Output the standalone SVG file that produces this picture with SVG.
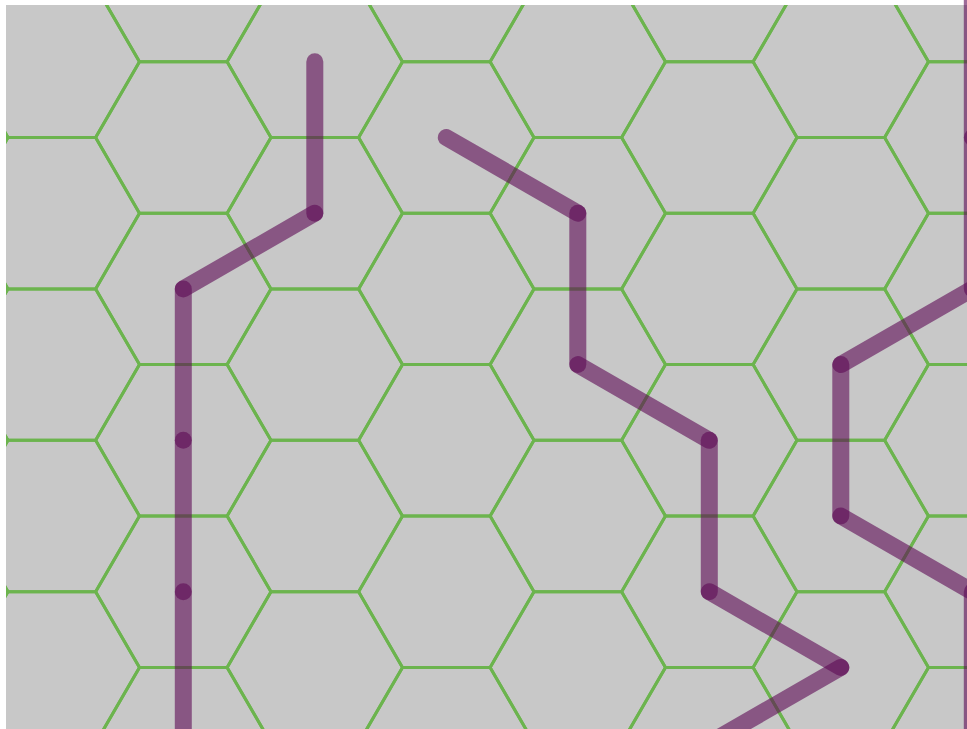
<svg xmlns="http://www.w3.org/2000/svg" xmlns:xlink="http://www.w3.org/1999/xlink" width="967" height="729" viewBox="0 0 967 729">
<style>
.hex{fill:none;stroke:#6cb44e;stroke-width:3;stroke-linejoin:miter}
.seg{stroke:#5e0a55;stroke-opacity:0.6;stroke-width:17;stroke-linecap:round}
</style>
<defs>
<polygon id="h" class="hex" points="-87.67,0 -43.83,-75.7 43.83,-75.7 87.67,0 43.83,75.7 -43.83,75.7"/>
<clipPath id="c"><rect x="6" y="5" width="961" height="724"/></clipPath>
</defs>
<rect width="967" height="729" fill="#ffffff"/>
<rect x="6" y="5" width="961" height="724" fill="#c8c8c8"/>
<g id="grid" clip-path="url(#c)">
<use xlink:href="#h" x="-79.7" y="-13.9"/><use xlink:href="#h" x="-79.7" y="137.5"/><use xlink:href="#h" x="-79.7" y="288.9"/><use xlink:href="#h" x="-79.7" y="440.3"/><use xlink:href="#h" x="-79.7" y="591.7"/><use xlink:href="#h" x="-79.7" y="743.1"/>
<use xlink:href="#h" x="51.8" y="61.8"/><use xlink:href="#h" x="51.8" y="213.2"/><use xlink:href="#h" x="51.8" y="364.6"/><use xlink:href="#h" x="51.8" y="516"/><use xlink:href="#h" x="51.8" y="667.4"/>
<use xlink:href="#h" x="183.3" y="-13.9"/><use xlink:href="#h" x="183.3" y="137.5"/><use xlink:href="#h" x="183.3" y="288.9"/><use xlink:href="#h" x="183.3" y="440.3"/><use xlink:href="#h" x="183.3" y="591.7"/><use xlink:href="#h" x="183.3" y="743.1"/>
<use xlink:href="#h" x="314.8" y="61.8"/><use xlink:href="#h" x="314.8" y="213.2"/><use xlink:href="#h" x="314.8" y="364.6"/><use xlink:href="#h" x="314.8" y="516"/><use xlink:href="#h" x="314.8" y="667.4"/>
<use xlink:href="#h" x="446.3" y="-13.9"/><use xlink:href="#h" x="446.3" y="137.5"/><use xlink:href="#h" x="446.3" y="288.9"/><use xlink:href="#h" x="446.3" y="440.3"/><use xlink:href="#h" x="446.3" y="591.7"/><use xlink:href="#h" x="446.3" y="743.1"/>
<use xlink:href="#h" x="577.8" y="61.8"/><use xlink:href="#h" x="577.8" y="213.2"/><use xlink:href="#h" x="577.8" y="364.6"/><use xlink:href="#h" x="577.8" y="516"/><use xlink:href="#h" x="577.8" y="667.4"/>
<use xlink:href="#h" x="709.3" y="-13.9"/><use xlink:href="#h" x="709.3" y="137.5"/><use xlink:href="#h" x="709.3" y="288.9"/><use xlink:href="#h" x="709.3" y="440.3"/><use xlink:href="#h" x="709.3" y="591.7"/><use xlink:href="#h" x="709.3" y="743.1"/>
<use xlink:href="#h" x="840.8" y="61.8"/><use xlink:href="#h" x="840.8" y="213.2"/><use xlink:href="#h" x="840.8" y="364.6"/><use xlink:href="#h" x="840.8" y="516"/><use xlink:href="#h" x="840.8" y="667.4"/>
<use xlink:href="#h" x="972.3" y="-13.9"/><use xlink:href="#h" x="972.3" y="137.5"/><use xlink:href="#h" x="972.3" y="288.9"/><use xlink:href="#h" x="972.3" y="440.3"/><use xlink:href="#h" x="972.3" y="591.7"/><use xlink:href="#h" x="972.3" y="743.1"/>
</g>
<g id="paths">
<g id="pathA">
<line class="seg" x1="314.8" y1="61.8" x2="314.8" y2="213.2"/>
<line class="seg" x1="314.8" y1="213.2" x2="183.3" y2="288.9"/>
<line class="seg" x1="183.3" y1="288.9" x2="183.3" y2="440.3"/>
<line class="seg" x1="183.3" y1="440.3" x2="183.3" y2="591.7"/>
<line class="seg" x1="183.3" y1="591.7" x2="183.3" y2="743.1"/>
</g>
<g id="pathB">
<line class="seg" x1="446.3" y1="137.5" x2="577.8" y2="213.2"/>
<line class="seg" x1="577.8" y1="213.2" x2="577.8" y2="364.6"/>
<line class="seg" x1="577.8" y1="364.6" x2="709.3" y2="440.3"/>
<line class="seg" x1="709.3" y1="440.3" x2="709.3" y2="591.7"/>
<line class="seg" x1="709.3" y1="591.7" x2="840.8" y2="667.4"/>
<line class="seg" x1="840.8" y1="667.4" x2="709.3" y2="743.1"/>
</g>
<g id="pathC">
<line class="seg" x1="972.3" y1="-13.9" x2="972.3" y2="137.5"/>
<line class="seg" x1="972.3" y1="137.5" x2="972.3" y2="288.9"/>
<line class="seg" x1="972.3" y1="288.9" x2="840.8" y2="364.6"/>
<line class="seg" x1="840.8" y1="364.6" x2="840.8" y2="516"/>
<line class="seg" x1="840.8" y1="516" x2="972.3" y2="591.7"/>
<line class="seg" x1="972.3" y1="591.7" x2="972.3" y2="743.1"/>
</g>
</g>
</svg>
